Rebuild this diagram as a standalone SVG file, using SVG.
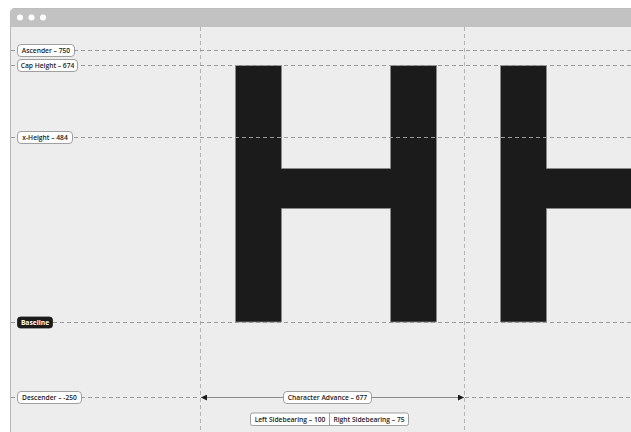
<svg xmlns="http://www.w3.org/2000/svg" width="631" height="432" viewBox="0 0 631 432">
<style>
.guide{stroke:#9a9a9a;stroke-width:1;stroke-dasharray:4 3;fill:none}
.vguide{stroke:#b4b4b4;stroke-width:1;stroke-dasharray:4 3;fill:none}
.pill{fill:#ffffff;stroke:#8a8a8a;stroke-width:0.8}
.pillDark{fill:#1b1b1b;stroke:#1b1b1b;stroke-width:0.8}
.lbl{font-family:"Open Sans","Liberation Sans",sans-serif;font-size:6.7px;font-weight:600;fill:#1b1b1b}
.lblW{font-family:"Open Sans","Liberation Sans",sans-serif;font-size:6.7px;font-weight:700;fill:#ffffff}
.glyph{fill:#1b1b1b;stroke:#8a8a8a;stroke-width:0.8}
</style>
<defs>
<marker id="ah" viewBox="0 0 6 6" refX="6" refY="3" markerWidth="6" markerHeight="6" orient="auto-start-reverse" markerUnits="userSpaceOnUse">
<path d="M0,0 L6,3 L0,6 Z" fill="#1b1b1b"/>
</marker>
</defs>
<rect width="631" height="432" fill="#ffffff"/>
<g id="window">
<path d="M10.5,445 L10.5,13 Q10.5,8.5 15,8.5 L645,8.5 L645,445 Z" fill="#ededed" stroke="#b8b8b8" stroke-width="1"/>
<path d="M10.5,27 L10.5,13 Q10.5,8.5 15,8.5 L645,8.5 L645,27 Z" fill="#c2c2c2"/>
<circle cx="20" cy="17.5" r="3" fill="#ffffff"/>
<circle cx="31.5" cy="17.5" r="3" fill="#ffffff"/>
<circle cx="43" cy="17.5" r="3" fill="#ffffff"/>
</g>
<g id="glyphs">
<path class="glyph" d="M235.5,65.5 H281.5 V168.5 H390.5 V65.5 H436.5 V322 H390.5 V208.5 H281.5 V322 H235.5 Z"/>
<path class="glyph" d="M500.5,65.5 H546.5 V168.5 H640 V208.5 H546.5 V322 H500.5 Z"/>
</g>
<g id="guides">
<line class="vguide" x1="200.5" y1="27" x2="200.5" y2="432"/>
<line class="vguide" x1="464.5" y1="27" x2="464.5" y2="432"/>
<line class="guide" x1="11" y1="50.5" x2="631" y2="50.5"/>
<line class="guide" x1="11" y1="65.5" x2="631" y2="65.5"/>
<line class="guide" x1="11" y1="137.5" x2="631" y2="137.5"/>
<line class="guide" x1="11" y1="322.5" x2="631" y2="322.5"/>
<line class="guide" x1="11" y1="397.5" x2="200" y2="397.5"/>
<line class="guide" x1="465" y1="397.5" x2="631" y2="397.5"/>
</g>
<g id="connectors">
<line x1="201" y1="397.5" x2="464" y2="397.5" stroke="#8a8a8a" stroke-width="1" marker-start="url(#ah)" marker-end="url(#ah)"/>
</g>
<g id="ascender">
<rect class="pill" x="17.5" y="44.5" width="57" height="12" rx="3.5"/>
<text class="lbl" x="46" y="52.8" text-anchor="middle">Ascender – 750</text>
</g>
<g id="cap-height">
<rect class="pill" x="17.5" y="59.5" width="60" height="12" rx="3.5"/>
<text class="lbl" x="47.5" y="67.8" text-anchor="middle">Cap Height – 674</text>
</g>
<g id="x-height">
<rect class="pill" x="17.5" y="131.5" width="55" height="12" rx="3.5"/>
<text class="lbl" x="45" y="139.8" text-anchor="middle">x-Height – 484</text>
</g>
<g id="baseline">
<rect class="pillDark" x="17.5" y="317" width="35" height="11" rx="3"/>
<text class="lblW" x="35" y="324.8" text-anchor="middle">Baseline</text>
</g>
<g id="descender">
<rect class="pill" x="17.5" y="391.5" width="64" height="12" rx="3.5"/>
<text class="lbl" x="49.5" y="399.8" text-anchor="middle">Descender – -250</text>
</g>
<g id="advance">
<rect class="pill" x="283.5" y="391.5" width="88" height="12" rx="3.5"/>
<text class="lbl" x="327.5" y="399.8" text-anchor="middle">Character Advance – 677</text>
</g>
<g id="sidebearings">
<rect class="pill" x="250.5" y="413" width="158" height="12.5" rx="2"/>
<line x1="329.5" y1="413" x2="329.5" y2="425.5" stroke="#8a8a8a" stroke-width="0.8"/>
<text class="lbl" x="290" y="421.5" text-anchor="middle">Left Sidebearing – 100</text>
<text class="lbl" x="369" y="421.5" text-anchor="middle">Right Sidebearing – 75</text>
</g>
</svg>
